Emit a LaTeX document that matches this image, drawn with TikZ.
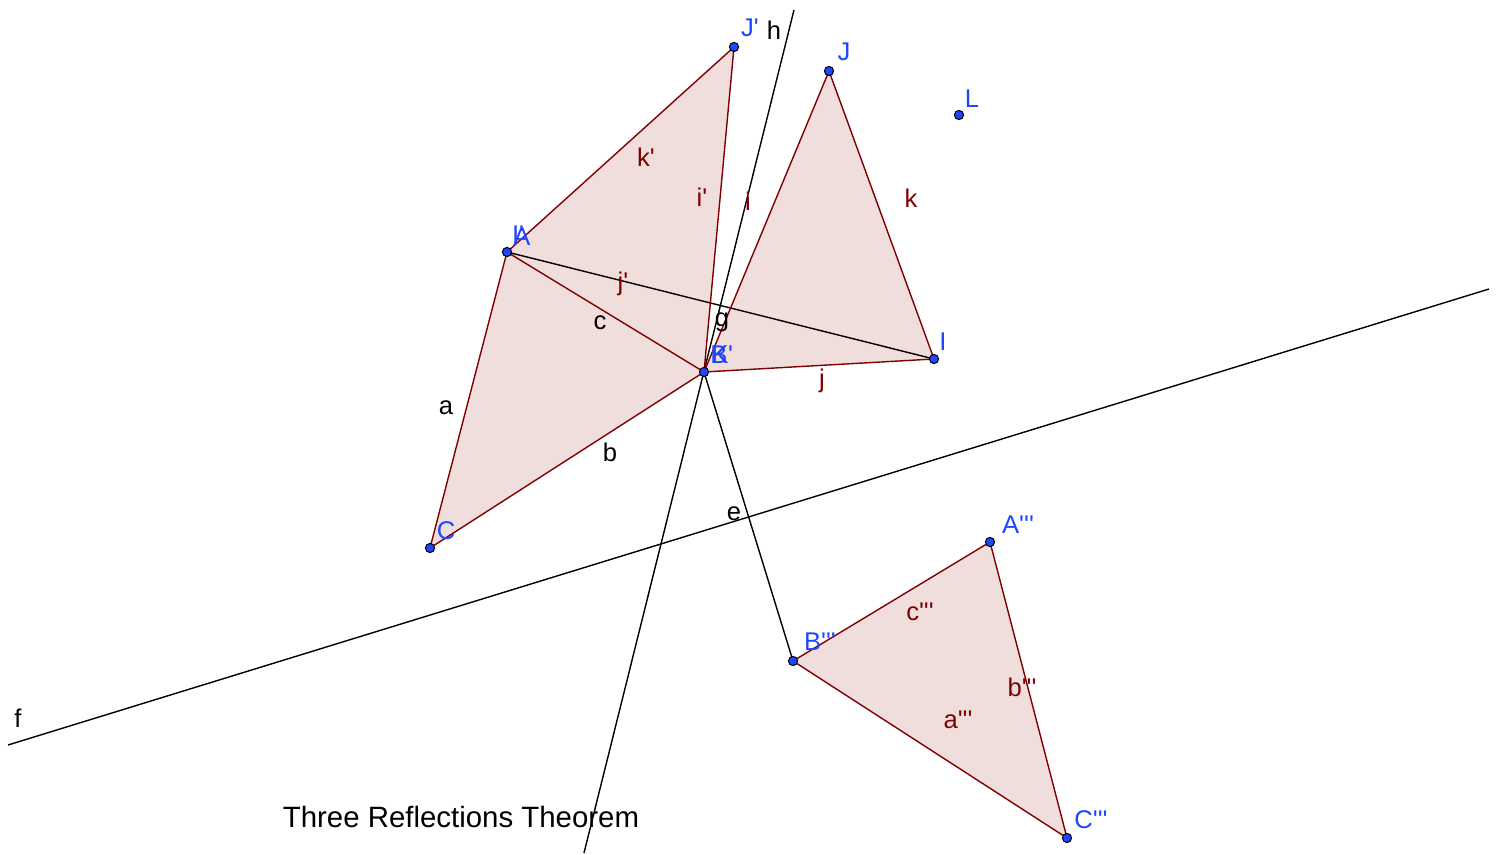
\documentclass[tikz,border=0pt]{standalone}
\usepackage{fontspec}
\setmainfont{Liberation Sans}[Ligatures=TeXOff]
\usepackage{tikz}
\usetikzlibrary{positioning,calc}
\definecolor{edgered}{RGB}{128,0,0}
\definecolor{fillpink}{RGB}{240,222,220}
\definecolor{ptblue}{RGB}{30,70,255}

\tikzset{
  pt/.style={circle,draw=black,fill=ptblue,line width=0.5pt,inner sep=0pt,minimum size=4.6pt},
  ptlabel/.style={text=ptblue,font=\fontsize{12.8}{15}\selectfont,inner sep=0pt},
  sidelabel/.style={text=edgered,font=\fontsize{12.8}{15}\selectfont,inner sep=0pt},
  linelabel/.style={text=black,font=\fontsize{12.8}{15}\selectfont,inner sep=0pt},
  edge/.style={draw=edgered,line width=0.7pt},
  refline/.style={draw=black,line width=0.7pt}
}

\begin{document}
\begin{tikzpicture}[x=0.5pt,y=-0.5pt]
\useasboundingbox (0,0) rectangle (1503,855);
% points
\foreach \n/\x/\y in {A/507/252, B/704/372, C/430/548, I/934/359, J/829/71,
  Jp/734/47, L/959/115, Appp/990/542, Bppp/793/661, Cppp/1067/838}
  \coordinate (\n) at (\x,\y);
\coordinate (h1) at (794,10);
\coordinate (h2) at (584,853);
\coordinate (f1) at (8,745);
\coordinate (f2) at (1489,289);
% triangles
\fill[fillpink] (A) -- (B) -- (C) -- cycle;
\fill[fillpink] (A) -- (Jp) -- (B) -- cycle;
\fill[fillpink] (I) -- (J) -- (B) -- cycle;
\fill[fillpink] (Appp) -- (Bppp) -- (Cppp) -- cycle;
% lines
\draw[refline] (h1) -- (h2);
\draw[refline] (f1) -- (f2);
\draw[refline] (A) -- (I);
\draw[refline] (B) -- (Bppp);
% sides
\draw[edge] (A) -- (B) -- (C) -- cycle;
\draw[edge] (A) -- (Jp) -- (B);
\draw[edge] (B) -- (J) -- (I) -- (B);
\draw[edge] (Appp) -- (Bppp) -- (Cppp) -- cycle;
% point marks
\foreach \n in {A,B,C,I,J,Jp,L,Appp,Bppp,Cppp}
  \node[pt] (p\n) at (\n) {};
% point labels
\node[ptlabel] (lIp) at (518,235) {I'};
\node[ptlabel] (lA) at (522,237) {A};
\node[ptlabel] (lC) at (446,531) {C};
\node[ptlabel] (lB) at (719,355) {B};
\node[ptlabel] (lK) at (720,355) {K};
\node[ptlabel] (lKp) at (722,355) {K'};
\node[ptlabel] (lI) at (943,342) {I};
\node[ptlabel] (lJ) at (844,52) {J};
\node[ptlabel] (lJp) at (750,28) {J'};
\node[ptlabel] (lL) at (972,99) {L};
\node[ptlabel] (lAppp) at (1018,525) {A'''};
\node[ptlabel] (lBppp) at (820,642) {B'''};
\node[ptlabel] (lCppp) at (1091,820) {C'''};
% line labels
\node[linelabel] (lh) at (774,30) {h};
\node[linelabel] (lf) at (18,718) {f};
\node[linelabel] (le) at (734,514) {e};
\node[linelabel] (lg) at (722,322) {g};
\node[linelabel] (la) at (446,408) {a};
\node[linelabel] (lb) at (610,452) {b};
\node[linelabel] (lc) at (600,323) {c};
% side labels
\node[sidelabel] (li) at (748,201) {i};
\node[sidelabel] (lj) at (822,381) {j};
\node[sidelabel] (lk) at (911,198) {k};
\node[sidelabel] (lip) at (702,197) {i'};
\node[sidelabel] (ljp) at (623,284) {j'};
\node[sidelabel] (lkp) at (646,157) {k'};
\node[sidelabel] (lappp) at (958,720) {a'''};
\node[sidelabel] (lbppp) at (1022,687) {b'''};
\node[sidelabel] (lcppp) at (920,612) {c'''};
% title
\node[linelabel,font=\fontsize{14.7}{17}\selectfont] (title) at (461,817) {Three Reflections Theorem};
\end{tikzpicture}
\end{document}
